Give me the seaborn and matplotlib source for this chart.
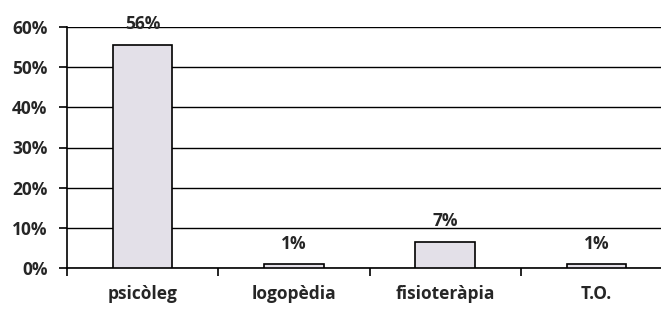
import matplotlib
matplotlib.use("Agg")
import matplotlib.pyplot as plt
import seaborn as sns
import pandas as pd
from matplotlib.ticker import FuncFormatter, FixedLocator

# Data
categories = ["psicòleg", "logopèdia", "fisioteràpia", "T.O."]
values = [55.6, 0.9, 6.4, 0.9]
value_labels = ["56%", "1%", "7%", "1%"]

df = pd.DataFrame({"cat": categories, "pct": values})

sns.set_style("white")
plt.rcParams["font.family"] = ["Open Sans", "DejaVu Sans"]
plt.rcParams["font.weight"] = "bold"

fig = plt.figure(figsize=(6.61, 3.09), dpi=100)
ax = fig.add_axes([67 / 661, 41 / 309, (672 - 67) / 661, 241 / 309])

sns.barplot(data=df, x="cat", y="pct", color="#E3DEEA", edgecolor="black",
            linewidth=1.2, width=0.395, ax=ax, zorder=3)

ax.set_ylim(0, 60)
ax.set_xlim(-0.5, 3.5)
ax.set_yticks(range(0, 61, 10))
ax.yaxis.set_major_formatter(FuncFormatter(lambda v, p: f"{v:.0f}%"))
ax.grid(axis="y", color="black", linewidth=1.0, zorder=0)
ax.set_axisbelow(True)

# category boundary tick marks
ax.xaxis.set_minor_locator(FixedLocator([-0.5, 0.5, 1.5, 2.5, 3.5]))
ax.tick_params(axis="x", which="major", length=0, pad=12, labelsize=12.5)
ax.tick_params(axis="x", which="minor", length=6, width=1.2, color="black", bottom=True)
ax.tick_params(axis="y", length=6, width=1.2, color="black", left=True, labelsize=12.5, pad=8)
for lab in ax.get_xticklabels() + ax.get_yticklabels():
    lab.set_fontweight("bold")

for side in ["top", "right"]:
    ax.spines[side].set_visible(False)
for side in ["left", "bottom"]:
    ax.spines[side].set_color("black")
    ax.spines[side].set_linewidth(1.2)

for i, (v, t) in enumerate(zip(values, value_labels)):
    ax.annotate(t, (i, v), xytext=(0, 15), textcoords="offset points",
                ha="center", va="center", fontsize=12.5, fontweight="bold",
                annotation_clip=False)

ax.set_xlabel("")
ax.set_ylabel("")

fig.savefig("out.png", dpi=100)
